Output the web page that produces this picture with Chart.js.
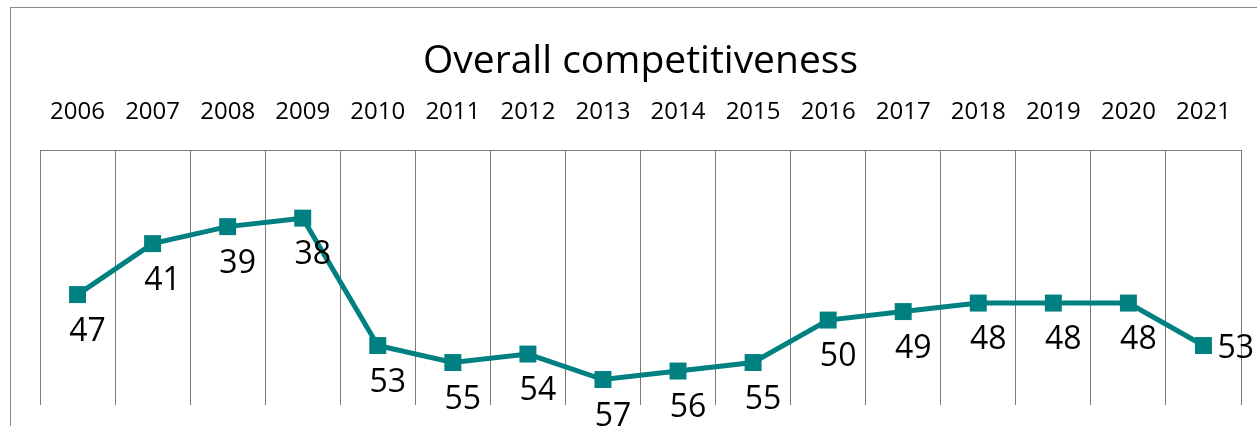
<!DOCTYPE html>
<html>
<head>
<meta charset="utf-8">
<script src="https://cdn.jsdelivr.net/npm/chart.js@4/dist/chart.umd.min.js"></script>
<style>
  html, body { margin: 0; padding: 0; background: #fff; overflow: hidden; }
  #wrap { position: relative; width: 1257px; height: 426px; }
  #frame { position: absolute; left: 10px; top: 7px; width: 1400px; height: 600px; border: 1.5px solid #8a8a8a; box-sizing: border-box; }
  canvas { position: absolute; left: 0; top: 0; }
</style>
</head>
<body>
<div id="wrap">
  <div id="frame"></div>
  <canvas id="c" width="1257" height="426"></canvas>
</div>
<script>
const years = ['2006','2007','2008','2009','2010','2011','2012','2013','2014','2015','2016','2017','2018','2019','2020','2021'];
const ranks = [47, 41, 39, 38, 53, 55, 54, 57, 56, 55, 50, 49, 48, 48, 48, 53];
const chartTitle = 'Overall competitiveness';
const rankMin = 30;
const rankMax = 60;

const FONT = '"Open Sans", "Liberation Sans", sans-serif';
const TEAL = '#008080';
const GRID = '#7a7a7a';

const valueLabels = {
  id: 'valueLabels',
  afterDatasetsDraw(chart) {
    const ctx = chart.ctx;
    const meta = chart.getDatasetMeta(0);
    ctx.save();
    ctx.font = '32px ' + FONT;
    ctx.fillStyle = '#000';
    ctx.textBaseline = 'middle';
    meta.data.forEach((pt, i) => {
      const v = chart.data.datasets[0].data[i];
      if (i === meta.data.length - 1) {
        ctx.textAlign = 'left';
        ctx.fillText(String(v), pt.x + 14, pt.y + 3);
      } else {
        ctx.textAlign = 'center';
        ctx.fillText(String(v), pt.x + 10, pt.y + 37);
      }
    });
    ctx.restore();
  }
};

new Chart(document.getElementById('c'), {
  type: 'line',
  data: {
    labels: years,
    datasets: [{
      data: ranks,
      borderColor: TEAL,
      backgroundColor: TEAL,
      borderWidth: 5,
      pointStyle: 'rect',
      pointRadius: 12,
      pointHoverRadius: 12,
      pointBackgroundColor: TEAL,
      pointBorderWidth: 0,
      tension: 0,
      clip: false
    }]
  },
  options: {
    responsive: false,
    animation: false,
    events: [],
    layout: { padding: { left: 40, right: 16, top: 0, bottom: 21 } },
    plugins: {
      legend: { display: false },
      tooltip: { enabled: false },
      title: {
        display: true,
        text: chartTitle,
        color: '#000',
        font: { family: FONT, size: 39, weight: 'normal', lineHeight: 0.6 },
        padding: { top: 50, bottom: 0 }
      }
    },
    scales: {
      x: {
        position: 'top',
        offset: true,
        grid: { display: true, offset: true, color: GRID, lineWidth: 1, drawTicks: false },
        border: { display: true, color: GRID, width: 1 },
        ticks: { color: '#000', font: { family: FONT, size: 24 }, padding: 24, maxRotation: 0, autoSkip: false }
      },
      y: {
        display: false,
        reverse: true,
        min: rankMin,
        max: rankMax
      }
    }
  },
  plugins: [valueLabels]
});
</script>
</body>
</html>
